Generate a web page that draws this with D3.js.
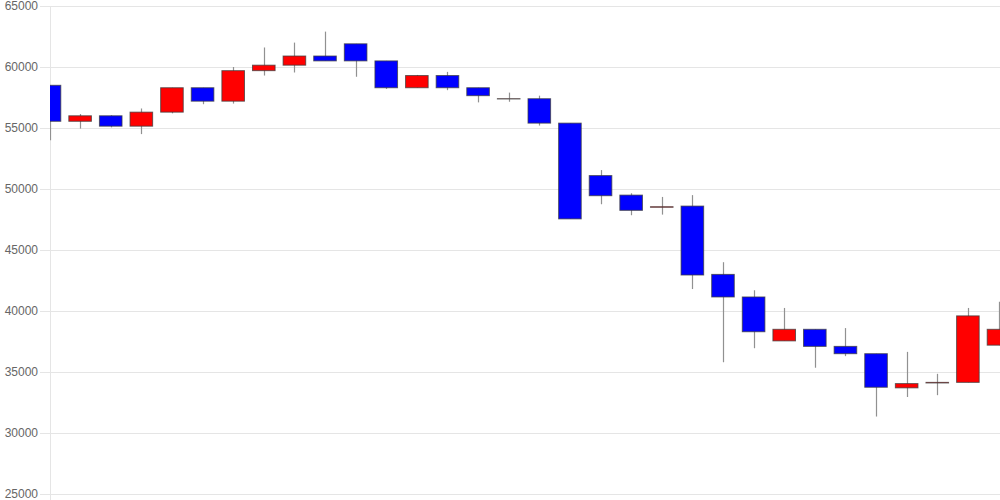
<!DOCTYPE html>
<html lang="en">
<head>
<meta charset="utf-8">
<title>Candlestick</title>
<script src="https://d3js.org/d3.v7.min.js"></script>
<style>
  body { margin: 0; background: #fff; }
  .tick text { font: 12px "Liberation Sans", Arial, sans-serif; fill: #666; }
</style>
</head>
<body>
<script>
// candle values (one per session)
var opens  = [58500, 55550, 56000, 55150, 56300, 58300, 57200, 59700, 60150, 60900, 61900, 60500,
              58300, 59300, 58300, 57400, 57400, 55400, 51100, 49500, 48500, 48600, 43000, 41150,
              37550, 38500, 37100, 36500, 33700, 34100, 34150, 37200];
var closes = [55550, 56000, 55150, 56300, 58300, 57200, 59700, 60150, 60900, 60500, 60500, 58300,
              59300, 58300, 57650, 57400, 55400, 47550, 49450, 48250, 48550, 42950, 41150, 38300,
              38500, 37100, 36500, 33750, 34050, 34150, 39600, 38500];
var highs  = [58500, 56150, 56050, 56600, 58300, 58300, 60000, 61600, 62000, 62900, 61900, 60500,
              59350, 59600, 58300, 57900, 57650, 55400, 51550, 49650, 49350, 49500, 44000, 41700,
              40250, 38500, 38600, 36500, 36650, 34850, 40250, 40750];
var lows   = [54000, 54950, 55050, 54500, 56200, 56950, 57000, 59300, 59550, 60500, 59200, 58200,
              58300, 58100, 57100, 57150, 55200, 47550, 48750, 47850, 47900, 41800, 35800, 36950,
              37550, 35350, 36300, 31350, 32950, 33100, 34150, 37200];
var yTicks = [25000, 30000, 35000, 40000, 45000, 50000, 55000, 60000, 65000];

var w = 1000, h = 500;
var plotL = 50, plotR = 1000, plotT = 6, plotB = 494;

var svg = d3.select("body").append("svg")
    .attr("width", w)
    .attr("height", h);

var x = d3.scaleLinear()
    .domain([0, opens.length - 1])
    .range([49.5, 998.5]);

var y = d3.scaleLinear()
    .domain([25000, 65000])
    .range([plotB, plotT]);

var candleW = 22.6;

// grid + axis labels
svg.append("g")
    .attr("transform", "translate(" + plotL + ",0)")
    .call(d3.axisLeft(y)
        .tickValues(yTicks)
        .tickFormat(d3.format("d"))
        .tickSize(-(plotR - plotL))
        .tickPadding(12))
    .call(function(g) {
        g.select(".domain").remove();
        g.selectAll(".tick line").attr("stroke", "#e5e5e5").attr("x1", -10);
    });

// y axis line
svg.append("line")
    .attr("x1", plotL + 0.5).attr("x2", plotL + 0.5)
    .attr("y1", plotT).attr("y2", h)
    .attr("stroke", "#e5e5e5");

svg.append("clipPath").attr("id", "plot")
  .append("rect")
    .attr("x", plotL).attr("y", 0)
    .attr("width", plotR - plotL).attr("height", h);

var plot = svg.append("g").attr("clip-path", "url(#plot)");

var idx = d3.range(opens.length);

// wicks
plot.selectAll("line.wick")
    .data(idx)
    .enter()
    .append("line")
    .attr("class", "wick")
    .attr("x1", function(i) { return Math.round(x(i)) + 0.5; })
    .attr("x2", function(i) { return Math.round(x(i)) + 0.5; })
    .attr("y1", function(i) { return y(highs[i]); })
    .attr("y2", function(i) { return y(lows[i]); })
    .attr("stroke", "#919191")
    .attr("stroke-width", 1.2);

// bodies (doji get a hairline so the stroke still shows)
plot.selectAll("rect.body")
    .data(idx)
    .enter()
    .append("rect")
    .attr("class", "body")
    .attr("x", function(i) { return x(i) - candleW / 2; })
    .attr("width", candleW)
    .attr("y", function(i) { return y(Math.max(opens[i], closes[i])); })
    .attr("height", function(i) { return Math.max(0.2, Math.abs(y(opens[i]) - y(closes[i]))); })
    .attr("fill", function(i) { return closes[i] >= opens[i] ? "#ff0000" : "#0000ff"; })
    .attr("stroke", function(i) { return opens[i] == closes[i] ? "#555" : "rgba(60,60,60,0.75)"; })
    .attr("stroke-width", 1);
</script>
</body>
</html>
